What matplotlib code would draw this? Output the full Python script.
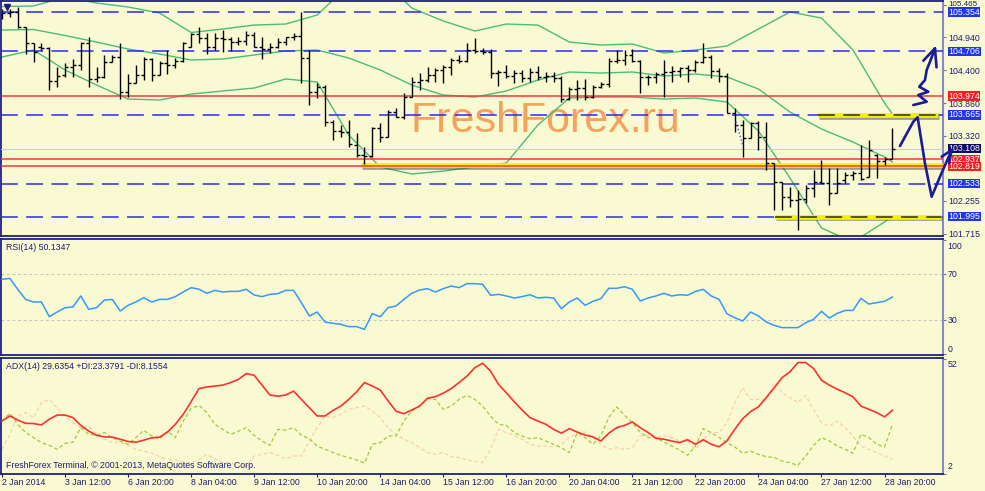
import matplotlib
matplotlib.use('Agg')
import matplotlib.pyplot as plt
import matplotlib.patheffects as pe
import matplotlib.transforms as mtransforms

plt.rcParams['font.family'] = ['Liberation Sans', 'DejaVu Sans']

W, H = 985, 491
BG = '#fafad2'
NAVY = '#1c1c78'
FONT = 6.3

# ---- H4 bars (2 Jan - 28 Jan 2014) ----
opens = [105.305, 105.332, 105.360, 105.102, 104.840, 104.774, 104.757, 104.221, 104.320, 104.456,
         104.484, 104.840, 104.248, 104.281, 104.539, 104.621, 104.046, 104.194, 104.320, 104.577,
         104.320, 104.511, 104.484, 104.555, 104.785, 104.993, 104.922, 104.785, 104.922, 104.905,
         104.867, 104.883, 104.976, 104.785, 104.741, 104.785, 104.867, 104.938, 104.960, 104.593,
         104.046, 104.117, 103.553, 103.406, 103.389, 103.170, 103.006, 102.990, 103.444, 103.307,
         103.718, 103.635, 103.964, 104.210, 104.238, 104.320, 104.402, 104.456, 104.566, 104.555,
         104.730, 104.719, 104.703, 104.358, 104.374, 104.303, 104.358, 104.265, 104.374, 104.292,
         104.303, 104.265, 103.920, 104.084, 104.101, 103.964, 104.117, 104.172, 104.555, 104.566,
         104.648, 104.555, 104.292, 104.292, 104.336, 104.374, 104.391, 104.429, 104.402, 104.539,
         104.621, 104.391, 104.303, 103.701, 103.499, 103.280, 103.537, 103.296, 102.869, 102.568,
         102.311, 102.267, 102.278, 102.459, 102.568, 102.541, 102.377, 102.596, 102.678, 102.705,
         102.650, 103.006, 102.913, 102.935]
highs = [105.398, 105.398, 105.442, 105.102, 104.851, 104.851, 104.774, 104.456, 104.511, 104.577,
         104.867, 104.949, 104.446, 104.648, 104.648, 104.851, 104.336, 104.484, 104.610, 104.593,
         104.550, 104.730, 104.593, 104.867, 105.004, 105.113, 105.004, 105.004, 105.058, 104.938,
         104.949, 105.048, 105.020, 104.949, 104.840, 104.922, 104.949, 105.004, 105.360, 104.730,
         104.183, 104.155, 103.581, 103.499, 103.581, 103.373, 103.143, 103.460, 103.526, 103.745,
         103.772, 104.019, 104.281, 104.358, 104.456, 104.429, 104.484, 104.593, 104.648, 104.851,
         104.922, 104.757, 104.741, 104.402, 104.484, 104.402, 104.402, 104.429, 104.467, 104.374,
         104.374, 104.303, 104.128, 104.238, 104.248, 104.155, 104.210, 104.593, 104.730, 104.730,
         104.741, 104.566, 104.320, 104.374, 104.566, 104.467, 104.456, 104.484, 104.566, 104.840,
         104.648, 104.429, 104.347, 103.772, 103.581, 103.553, 103.570, 103.553, 102.880, 102.568,
         102.486, 102.431, 102.514, 102.760, 102.924, 102.787, 102.787, 102.732, 102.749, 103.170,
         103.252, 103.023, 102.979, 103.444]
lows = [105.234, 105.277, 105.086, 104.659, 104.539, 104.730, 104.073, 104.128, 104.292, 104.281,
        104.402, 104.128, 104.210, 104.265, 104.539, 103.920, 103.964, 104.183, 104.238, 104.227,
        104.320, 104.336, 104.429, 104.539, 104.785, 104.840, 104.664, 104.730, 104.703, 104.719,
        104.812, 104.812, 104.785, 104.577, 104.675, 104.757, 104.812, 104.894, 104.183, 103.827,
        103.936, 103.482, 103.252, 103.307, 103.143, 102.979, 102.858, 102.979, 103.225, 103.296,
        103.635, 103.592, 103.964, 104.073, 104.210, 104.210, 104.183, 104.320, 104.511, 104.539,
        104.675, 104.664, 104.265, 104.139, 104.265, 104.183, 104.210, 104.210, 104.238, 104.210,
        104.210, 103.882, 103.909, 103.909, 103.909, 103.936, 104.101, 104.128, 104.511, 104.484,
        104.539, 104.019, 104.155, 104.183, 103.964, 104.210, 104.281, 104.210, 104.374, 104.511,
        104.265, 104.210, 103.690, 103.389, 102.979, 103.280, 103.088, 102.760, 102.103, 102.103,
        102.158, 101.775, 102.213, 102.311, 102.541, 102.185, 102.377, 102.552, 102.596, 102.596,
        102.639, 102.623, 102.842, 102.935]
closes = [105.332, 105.360, 105.102, 104.840, 104.703, 104.757, 104.221, 104.303, 104.446, 104.484,
          104.840, 104.248, 104.281, 104.539, 104.621, 104.046, 104.194, 104.320, 104.577, 104.320,
          104.511, 104.484, 104.555, 104.840, 104.993, 104.922, 104.774, 104.922, 104.905, 104.867,
          104.883, 104.976, 104.785, 104.741, 104.785, 104.867, 104.938, 104.960, 104.593, 104.046,
          104.117, 103.553, 103.406, 103.389, 103.187, 103.006, 102.990, 103.444, 103.307, 103.718,
          103.635, 103.964, 104.210, 104.238, 104.320, 104.402, 104.456, 104.566, 104.555, 104.730,
          104.719, 104.703, 104.358, 104.374, 104.303, 104.358, 104.265, 104.374, 104.292, 104.303,
          104.265, 103.920, 104.084, 104.101, 103.964, 104.117, 104.172, 104.555, 104.566, 104.648,
          104.555, 104.292, 104.292, 104.336, 104.374, 104.391, 104.429, 104.402, 104.539, 104.621,
          104.391, 104.303, 103.701, 103.499, 103.280, 103.537, 103.296, 102.869, 102.568, 102.311,
          102.267, 102.278, 102.459, 102.568, 102.541, 102.377, 102.541, 102.678, 102.705, 102.607,
          103.088, 102.913, 102.935, 103.108]

# Bollinger bands, read every 4 bars
bb_idx = [0, 4, 8, 12, 16, 20, 24, 28, 32, 36, 40, 44, 48, 52, 56, 60, 64, 68, 72, 76,
          80, 84, 88, 92, 96, 100, 104, 108, 112, 113]
bb_upper = [105.444, 105.453, 105.600, 105.502, 105.436, 105.338, 105.017, 105.075, 105.140, 105.157,
            105.305, 105.797, 105.912, 105.420, 105.206, 105.042, 105.157, 105.140, 104.861, 104.812,
            104.829, 104.681, 104.730, 104.796, 105.075, 105.354, 105.255, 104.730, 103.860, 103.679]
bb_mid = [105.058, 105.067, 104.968, 104.861, 104.746, 104.664, 104.566, 104.582, 104.648, 104.714,
          104.730, 104.599, 104.402, 104.155, 103.991, 103.958, 104.057, 104.237, 104.369, 104.352,
          104.369, 104.303, 104.336, 104.287, 104.090, 103.712, 103.433, 103.219, 102.973, 102.891]
bb_lower = [104.615, 104.730, 104.402, 104.155, 103.925, 103.909, 104.007, 104.057, 104.106, 104.254,
            104.205, 103.334, 102.809, 102.694, 102.743, 102.809, 102.874, 103.498, 103.942, 103.958,
            103.958, 103.925, 103.942, 103.876, 103.400, 102.628, 101.807, 101.577, 101.906, 102.004]

rsi = [65.7, 66.5, 56.9, 48.1, 45.8, 45.8, 32.9, 37.0, 40.8, 41.4,
       51.1, 39.4, 40.8, 47.5, 48.1, 37.9, 42.9, 45.8, 49.6, 45.8,
       48.1, 48.1, 50.5, 54.6, 58.4, 57.0, 53.4, 56.0, 54.6, 55.1,
       55.1, 56.9, 51.9, 50.5, 52.5, 53.1, 56.0, 56.0, 45.2, 33.5,
       37.0, 28.2, 27.1, 26.2, 24.2, 24.2, 21.8, 35.6, 32.9, 40.8,
       42.3, 48.1, 53.4, 56.3, 57.5, 54.6, 57.5, 59.8, 58.4, 61.9,
       61.9, 61.3, 51.7, 52.5, 51.1, 49.3, 50.5, 52.2, 49.3, 49.9,
       49.3, 39.9, 45.8, 49.3, 42.9, 46.4, 48.7, 57.8, 57.8, 59.2,
       56.9, 46.7, 49.3, 51.1, 53.4, 51.1, 52.2, 51.7, 55.1, 56.9,
       51.1, 48.1, 35.5, 32.0, 29.1, 37.0, 33.5, 28.2, 25.3, 23.3,
       23.3, 23.3, 27.6, 30.6, 37.6, 31.7, 35.8, 38.4, 38.4, 49.0,
       44.0, 45.2, 46.4, 50.1]

adx = [24.9, 27.1, 25.3, 23.9, 23.8, 23.2, 25.7, 27.5, 27.5, 26.4,
       23.0, 20.5, 18.7, 18.0, 17.9, 17.0, 16.0, 15.7, 16.6, 17.6,
       17.9, 20.1, 23.5, 27.8, 33.3, 39.0, 39.7, 40.1, 40.5, 41.6,
       43.0, 45.5, 44.8, 40.5, 36.2, 35.7, 36.2, 37.9, 34.3, 30.7,
       27.1, 27.1, 29.5, 31.4, 34.3, 37.6, 41.6, 40.1, 38.4, 33.6,
       29.2, 28.1, 29.7, 31.4, 34.8, 35.5, 37.0, 39.0, 41.6, 44.4,
       48.1, 50.0, 46.6, 40.9, 37.2, 33.3, 29.7, 26.4, 24.9, 23.5,
       21.3, 19.6, 21.6, 20.1, 18.8, 18.0, 16.2, 19.6, 22.0, 23.0,
       24.5, 22.0, 19.9, 17.4, 17.0, 16.2, 15.5, 16.8, 14.8, 16.8,
       14.8, 13.7, 16.3, 21.3, 25.9, 29.0, 31.1, 35.1, 39.4, 43.8,
       46.3, 50.3, 50.3, 47.7, 42.6, 40.5, 38.7, 37.2, 35.4, 31.4,
       30.0, 28.6, 26.7, 29.6]
plus_di = [24.9, 28.3, 23.5, 19.9, 17.7, 15.5, 14.3, 12.6, 15.2, 15.7,
           22.0, 19.1, 18.7, 19.9, 17.7, 16.2, 14.8, 17.7, 20.9, 18.4,
           17.0, 20.5, 17.7, 24.9, 30.3, 31.7, 28.6, 23.5, 21.3, 19.1,
           20.5, 22.0, 18.7, 16.2, 14.3, 21.3, 20.9, 22.0, 18.7, 17.2,
           14.0, 12.6, 11.2, 10.0, 9.0, 8.0, 6.6, 14.8, 15.5, 18.4,
           18.4, 24.9, 29.2, 31.4, 34.6, 34.3, 30.0, 31.4, 34.3, 36.1,
           34.3, 31.4, 27.1, 23.5, 23.0, 19.9, 18.4, 17.2, 17.7, 16.2,
           14.8, 13.3, 11.2, 19.9, 17.7, 14.8, 18.4, 26.4, 31.1, 27.4,
           24.2, 19.9, 17.7, 17.7, 15.7, 14.0, 12.3, 10.0, 14.0, 21.6,
           19.9, 17.7, 15.5, 13.6, 10.9, 11.8, 10.4, 9.4, 9.0, 7.5,
           6.8, 5.6, 9.7, 14.3, 17.7, 16.2, 14.0, 12.6, 10.9, 19.1,
           17.7, 14.8, 13.6, 23.4]
minus_di = [12.6, 19.1, 27.1, 28.6, 26.4, 32.9, 34.3, 30.7, 27.1, 24.2,
            22.0, 22.7, 19.1, 17.0, 15.7, 15.7, 14.3, 12.6, 11.8, 10.9,
            9.4, 8.5, 8.0, 7.0, 6.8, 8.0, 10.4, 8.5, 6.8, 6.8,
            5.3, 5.3, 9.7, 10.4, 11.2, 10.0, 8.5, 9.7, 9.7, 16.2,
            22.0, 27.1, 26.4, 27.8, 30.0, 30.7, 31.4, 29.2, 26.4, 22.0,
            19.1, 17.0, 15.5, 13.3, 11.2, 10.4, 11.2, 9.4, 9.0, 8.0,
            7.4, 6.8, 12.6, 21.3, 19.9, 18.7, 17.0, 14.8, 14.0, 14.0,
            13.7, 14.8, 17.7, 19.9, 20.1, 17.7, 14.8, 12.6, 13.3, 12.6,
            13.3, 18.4, 18.7, 17.7, 18.4, 17.7, 16.2, 16.2, 12.6, 17.0,
            19.9, 19.9, 24.2, 32.9, 39.4, 34.3, 34.3, 34.3, 41.6, 37.2,
            35.1, 32.9, 36.1, 30.0, 24.2, 22.7, 24.9, 22.0, 18.4, 14.0,
            12.6, 11.2, 9.7, 8.2]

time_labels = ['2 Jan 2014', '3 Jan 12:00', '6 Jan 20:00', '8 Jan 04:00', '9 Jan 12:00',
               '10 Jan 20:00', '14 Jan 04:00', '15 Jan 12:00', '16 Jan 20:00', '20 Jan 04:00',
               '21 Jan 12:00', '22 Jan 20:00', '24 Jan 04:00', '27 Jan 12:00', '28 Jan 20:00']
label_every = 8

price_top_tick = 105.465
price_ticks = [104.940, 104.400, 103.860, 103.320, 102.255, 101.715]
blue_levels = [105.354, 104.706, 103.665, 102.533, 101.995]
red_levels = [103.974, 102.937, 102.819]
bid_price = 103.108

# yellow trend-line objects: start bar, end bar, price
zone_start = [45.6, 103.6, 98.1]
zone_end = [119.4, 118.8, 119.2]
zone_price = [102.835, 103.665, 101.995]

# hand-drawn arrows (bar, price)
arrow1_x = [113.96, 115.65, 116.2, 117.13, 117.98, 119.04, 120.52]
arrow1_y = [103.154, 103.553, 103.625, 102.870, 102.321, 102.650, 103.088]
arrow1_head_x = [119.25, 120.52, 120.2]
arrow1_head_y = [102.978, 103.088, 102.874]
arrow2_x = [115.65, 117.35, 116.28, 117.55, 116.41, 117.13, 117.35, 117.77, 118.4]
arrow2_y = [103.827, 103.881, 103.991, 104.045, 104.127, 104.237, 104.402, 104.538, 104.758]
arrow2_head_x = [116.92, 118.4, 118.6]
arrow2_head_y = [104.554, 104.758, 104.446]
dotted_x = [93.15, 94.0]
dotted_y = [103.553, 103.170]
sell_mark = (0.6, 105.431)

rsi_ticks = [0, 30, 70, 100]
adx_ticks = [2, 52]


def px_box(x0, y0, x1, y1):
    return [x0 / W, 1 - y1 / H, (x1 - x0) / W, (y1 - y0) / H]


fig = plt.figure(figsize=(W / 100, H / 100), dpi=100, facecolor=BG)
ax_p = fig.add_axes(px_box(1, 1, 943, 236))
ax_r = fig.add_axes(px_box(1, 238.5, 943, 355))
ax_a = fig.add_axes(px_box(1, 358, 943, 474))

for ax in (ax_p, ax_r, ax_a):
    ax.set_facecolor(BG)
    ax.set_xlim(-0.127, 119.42)
    for side in ('top', 'bottom', 'left'):
        ax.spines[side].set_color('#1e1e8c')
        ax.spines[side].set_linewidth(1.3)
    ax.spines['right'].set_color('#8a8ac8')
    ax.spines['right'].set_linewidth(1.5)
    ax.yaxis.tick_right()
    ax.tick_params(axis='y', direction='out', length=2.2, width=0.8,
                   color='#7070b0', labelcolor=NAVY, labelsize=FONT, pad=1.3)
    ax.tick_params(axis='x', bottom=False, labelbottom=False)


def right_labels(ax, dx_px, dy_px=0):
    return (mtransforms.blended_transform_factory(ax.transAxes, ax.transData)
            + mtransforms.ScaledTranslation(dx_px / 100, dy_px / 100, fig.dpi_scale_trans))


# ---- price panel ----
idx = list(range(len(closes)))
ax_p.set_ylim(101.676, 105.535)
ax_p.set_yticks([price_top_tick] + price_ticks)
ax_p.set_yticklabels([''] + [f'{v:.3f}' for v in price_ticks])
# top scale label squeezed against the window edge, as in the terminal
ax_p.text(1, price_top_tick, f'{price_top_tick:.3f}', transform=right_labels(ax_p, 5.5, 1),
          ha='left', va='center', fontsize=5.8, color=NAVY, clip_on=False)

ax_p.text(410 / W, 1 - 131.7 / H, 'FreshForex.ru', transform=fig.transFigure,
          fontsize=31, color='#f5a25c', ha='left', va='baseline', zorder=1)

green = '#4cbb7a'
for band in (bb_upper, bb_mid, bb_lower):
    ax_p.plot(bb_idx, band, color=green, lw=1.0, zorder=2)

for lvl in blue_levels:
    ax_p.axhline(lvl, color='#2a2ae8', lw=1.1, ls=(0, (11, 5.5)), zorder=3)
ax_p.axhline(bid_price, color='#c5cde6', lw=0.8, zorder=3)

shadow = [pe.SimpleLineShadow(offset=(0.8, -1.3), shadow_color='#505050', alpha=0.55),
          pe.Normal()]
for s, e, p in zip(zone_start, zone_end, zone_price):
    ax_p.plot([s, e], [p, p], color='#f2f200', lw=3.4, solid_capstyle='butt',
              zorder=3.5, path_effects=shadow)
    if p in blue_levels:
        ax_p.plot([s, e], [p, p], color='#2e2e14', lw=1.1, ls=(0, (11, 5.5)), zorder=3.6)

for lvl in red_levels:
    ax_p.axhline(lvl, color='#f23a3a', lw=1.1, zorder=4)

ax_p.vlines(idx, lows, highs, color='black', lw=1.0, zorder=5)
ax_p.hlines(opens, [i - 0.38 for i in idx], idx, color='black', lw=1.0, zorder=5)
ax_p.hlines(closes, idx, [i + 0.38 for i in idx], color='black', lw=1.0, zorder=5)

ax_p.plot(dotted_x, dotted_y, color='#3a55ff', lw=1.0, ls=':', zorder=6)
ax_p.plot([sell_mark[0]], [sell_mark[1]], marker='v', color=NAVY, ms=4.5, zorder=6)

tr_p = right_labels(ax_p, 5.5)
boxes = ([(v, '#1f35f0') for v in blue_levels]
         + [(v, '#f52020') for v in red_levels]
         + [(bid_price, '#0c0c66')])
for v, c in boxes:
    ax_p.text(1, v, f'{v:.3f}', transform=tr_p, ha='left', va='center', fontsize=FONT,
              color='white', clip_on=False, zorder=7,
              bbox=dict(boxstyle='square,pad=0.02', fc=c, ec='none'))

stroke = dict(color='#1b1b9a', lw=1.9, zorder=12, clip_on=False,
              solid_joinstyle='round', solid_capstyle='round')
ax_p.plot(arrow1_x, arrow1_y, **stroke)
ax_p.plot(arrow1_head_x, arrow1_head_y, **stroke)
ax_p.plot(arrow2_x, arrow2_y, **stroke)
ax_p.plot(arrow2_head_x, arrow2_head_y, **stroke)

# ---- RSI panel ----
ax_r.set_ylim(-0.7, 101.5)
ax_r.plot(idx, rsi, color='#3399ff', lw=1.1, zorder=3)
for lvl in (70, 30):
    ax_r.axhline(lvl, color='#c4c4c4', lw=0.8, ls=(0, (2.5, 2.5)), zorder=2)
ax_r.set_yticks(rsi_ticks)
ax_r.set_yticklabels([])
tr_r = right_labels(ax_r, 4.5)
for v, txt in zip([4.1, 30, 70, 94.8], rsi_ticks):
    ax_r.text(1, v, str(txt), transform=tr_r, ha='left', va='center',
              fontsize=FONT, color=NAVY, clip_on=False)

# ---- ADX panel ----
ax_a.set_ylim(1.87, 52.3)
ax_a.plot(idx, minus_di, color='#f7cfae', lw=0.9, ls=(0, (3, 2)), zorder=2)
ax_a.plot(idx, plus_di, color='#9ccc3a', lw=0.9, ls=(0, (3, 2)), zorder=3)
ax_a.plot(idx, adx, color='#ff3030', lw=1.2, zorder=4)
ax_a.set_yticks(adx_ticks)
ax_a.set_yticklabels([])
tr_a = right_labels(ax_a, 4.5)
for v, txt in zip([5.0, 49.6], adx_ticks):
    ax_a.text(1, v, str(txt), transform=tr_a, ha='left', va='center',
              fontsize=FONT, color=NAVY, clip_on=False)

ax_a.set_xticks(list(range(0, label_every * len(time_labels), label_every)))
ax_a.set_xticklabels(time_labels)
ax_a.tick_params(axis='x', bottom=True, labelbottom=True, direction='out', length=2.2,
                 width=0.8, color=NAVY, labelcolor=NAVY, labelsize=FONT, pad=1.0)
for lbl in ax_a.get_xticklabels():
    lbl.set_ha('left')

fig.text(6 / W, 1 - 247.7 / H, 'RSI(14) 50.1347', fontsize=FONT, color=NAVY, va='center')
fig.text(6 / W, 1 - 366.7 / H, 'ADX(14) 29.6354 +DI:23.3791 -DI:8.1554',
         fontsize=FONT, color=NAVY, va='center')
fig.text(6 / W, 1 - 466 / H, 'FreshForex Terminal, \u00a9 2001-2013, MetaQuotes Software Corp.',
         fontsize=FONT, color=NAVY, va='center')

fig.savefig('out.png', dpi=100, facecolor=BG)
